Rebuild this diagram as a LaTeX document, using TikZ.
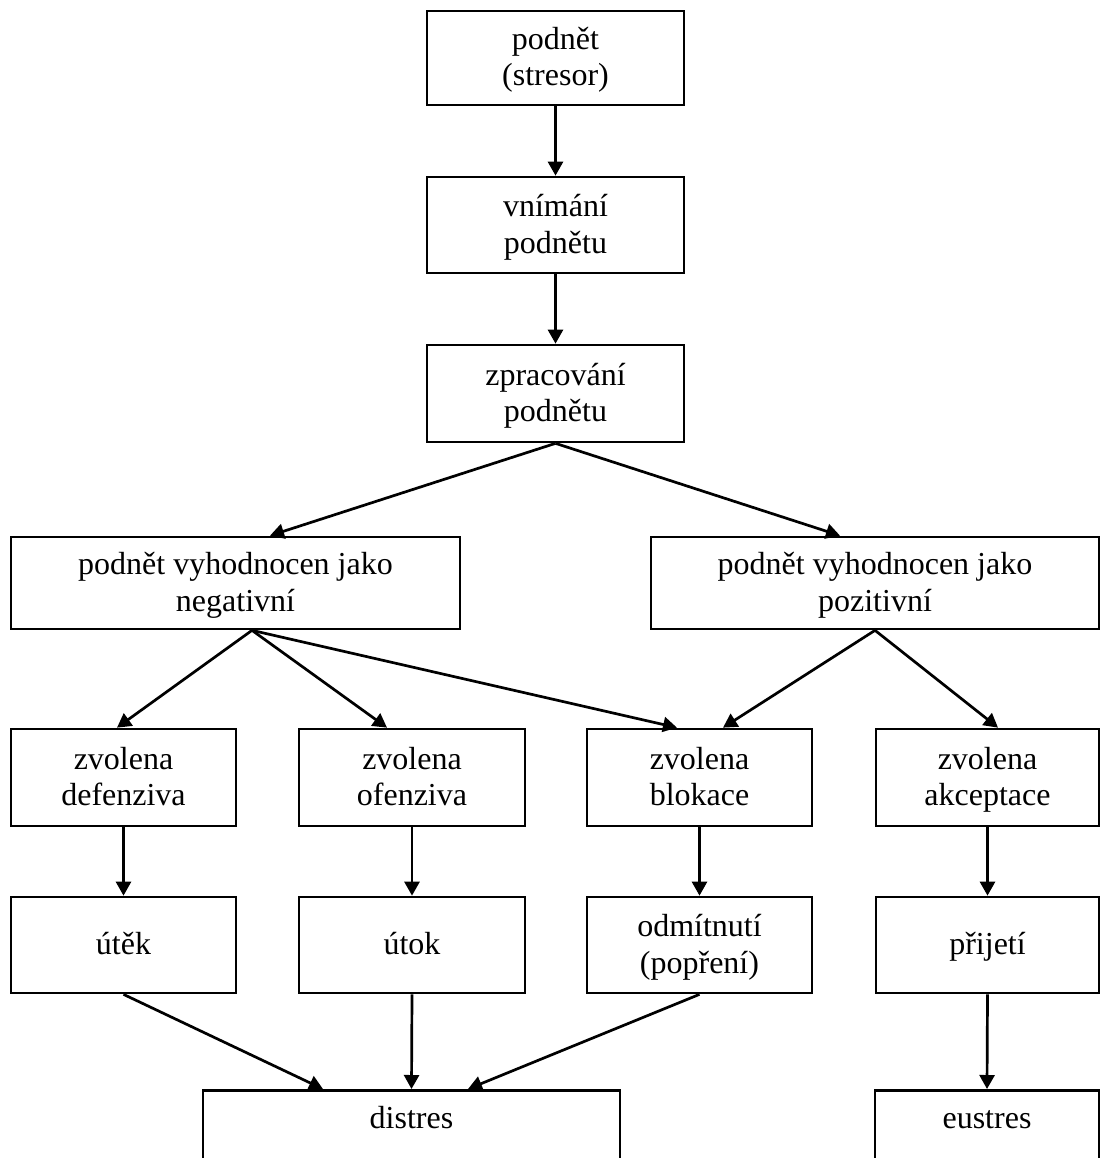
\documentclass[tikz,border=0pt]{standalone}
\usepackage{fontspec}
\setmainfont{Liberation Serif}
\usetikzlibrary{arrows.meta}
\newcommand{\tstrut}{\rule[-8.5pt]{0pt}{36.5pt}}
\begin{document}
\begin{tikzpicture}[x=1pt,y=-1pt,
  box/.style={draw=black, line width=2.7pt, rectangle, inner sep=0pt, align=center,
    font=\fontsize{32}{36.5}\selectfont},
  txt/.style={inner sep=0pt, font=\fontsize{32}{36.5}\selectfont},
  arr/.style={line width=2.7pt, -{Triangle[length=14pt,width=15pt]}},
  wide/.style={minimum width=449pt, minimum height=92pt},
  mid/.style={minimum width=257pt},
  small/.style={minimum width=225pt, minimum height=97pt}]
\useasboundingbox (0,0) rectangle (1101,1158);
\fill[white] (0,0) rectangle (1101,1158);
% top column
\node[box, mid, minimum height=94pt] (b1) at (555.5,58) {podnět\tstrut\\(stresor)\tstrut};
\node[box, mid, minimum height=96pt] (b2) at (555.5,225) {vnímání\tstrut\\podnětu\tstrut};
\node[box, mid, minimum height=97pt] (b3) at (555.5,393.5) {zpracování\tstrut\\podnětu\tstrut};
% evaluation row
\node[box, wide] (neg) at (235.5,583) {podnět vyhodnocen jako\tstrut\\negativní\tstrut};
\node[box, wide, minimum width=448pt] (pos) at (875,583) {podnět vyhodnocen jako\tstrut\\pozitivní\tstrut};
% choice row
\node[box, small] (def) at (123.5,777.5) {zvolena\tstrut\\defenziva\tstrut};
\node[box, small, minimum width=226pt] (ofe) at (412,777.5) {zvolena\tstrut\\ofenziva\tstrut};
\node[box, small] (blok) at (699.5,777.5) {zvolena\tstrut\\blokace\tstrut};
\node[box, small, minimum width=223pt] (akc) at (987.5,777.5) {zvolena\tstrut\\akceptace\tstrut};
% reaction row
\node[box, small, minimum height=96pt] (ut) at (123.5,945) {útěk\tstrut};
\node[box, small, minimum width=226pt, minimum height=96pt] (utok) at (412,945) {útok\tstrut};
\node[box, small, minimum height=96pt] (odm) at (699.5,945) {odmítnutí\tstrut\\(popření)\tstrut};
\node[box, small, minimum width=223pt, minimum height=96pt] (prij) at (987.5,945) {přijetí\tstrut};
% outcome row (cut off at the bottom)
\node[box, minimum width=417pt, minimum height=120pt, anchor=north] (dis) at (411.5,1089) {};
\node[txt, anchor=base, yshift=-39pt] (distxt) at (dis.north) {distres};
\node[box, minimum width=224pt, minimum height=120pt, anchor=north] (eus) at (987,1089) {};
\node[txt, anchor=base, yshift=-39pt] (eustxt) at (eus.north) {eustres};
% connectors
\draw[arr] (b1.south) -- (b2.north);
\draw[arr] (b2.south) -- (b3.north);
\draw[arr] (b3.south) -- ([xshift=34.5pt]neg.north);
\draw[arr] (b3.south) -- ([xshift=-35pt]pos.north);
\draw[arr] ([xshift=16.5pt]neg.south) -- ([xshift=-6.5pt]def.north);
\draw[arr] ([xshift=16.5pt]neg.south) -- ([xshift=-25pt]ofe.north);
\draw[arr] ([xshift=16.5pt]neg.south) -- ([xshift=-22.5pt]blok.north);
\draw[arr] (pos.south) -- ([xshift=23.5pt]blok.north);
\draw[arr] (pos.south) -- ([xshift=10.5pt]akc.north);
\draw[arr] (def.south) -- (ut.north);
\draw[arr] (ofe.south) -- (utok.north);
\draw[arr] (blok.south) -- (odm.north);
\draw[arr] (akc.south) -- (prij.north);
\draw[arr] (ut.south) -- ([xshift=-88.5pt]dis.north);
\draw[arr] (utok.south) -- (dis.north);
\draw[arr] (odm.south) -- ([xshift=56.5pt]dis.north);
\draw[arr] (prij.south) -- (eus.north);
\end{tikzpicture}
\end{document}
